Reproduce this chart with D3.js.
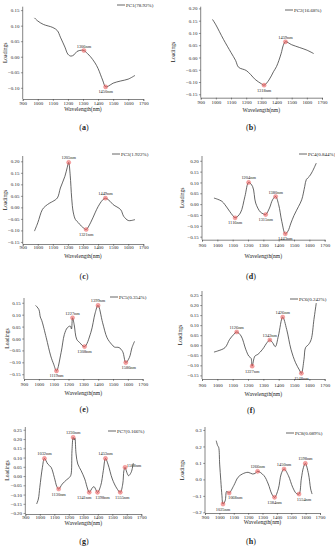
<!DOCTYPE html>
<html>
<head>
<meta charset="utf-8">
<script src="https://cdn.jsdelivr.net/npm/d3@7"></script>
<style>
  body { margin: 0; background: #fff; }
  svg text { font-family: "Liberation Serif", "DejaVu Serif", serif; fill: #222; }
</style>
</head>
<body>
<svg id="chart" width="335" height="550"></svg>
<script>
// wavelength axis
var xTicks = [900, 1000, 1100, 1200, 1300, 1400, 1500, 1600, 1700];

// legend names
var pcNames = ['PC1(78.92%)', 'PC2(16.68%)', 'PC3(1.922%)', 'PC4(0.844%)',
               'PC5(0.354%)', 'PC6(0.242%)', 'PC7(0.166%)', 'PC8(0.089%)'];
var captions = ['a', 'b', 'c', 'd', 'e', 'f', 'g', 'h'];

// y tick labels per panel
var yTicksA = [-0.10, -0.05, 0.00, 0.05, 0.10, 0.15];
var yTicksB = [-0.15, -0.10, -0.05, 0.00, 0.05, 0.10, 0.15, 0.20];
var yTicksE = [-0.15, -0.10, -0.05, 0.00, 0.05, 0.10, 0.15];
var yTicksF = [-0.15, -0.10, -0.05, 0.00, 0.05, 0.10, 0.15, 0.20, 0.25];
var yTicksG = [-0.20, -0.15, -0.10, -0.05, 0.00, 0.05, 0.10, 0.15, 0.20, 0.25];
var yTicksH = [-0.2, -0.1, 0.0, 0.1, 0.2, 0.3];

// loadings [wavelength, value]
var pc1 = [[978,0.125],[1000,0.115],[1037,0.104],[1100,0.094],[1130,0.084],[1150,0.063],[1180,0.031],[1200,0.008],[1220,0.002],[1240,0.006],[1260,0.017],[1290,0.021],[1306,0.020],[1330,0.010],[1350,0.0],[1380,-0.020],[1400,-0.038],[1430,-0.075],[1450,-0.097],[1470,-0.094],[1500,-0.085],[1550,-0.078],[1600,-0.072],[1645,-0.060]];
var pc2 = [[978,0.155],[1000,0.133],[1050,0.074],[1100,0.020],[1130,-0.012],[1150,-0.040],[1200,-0.053],[1230,-0.070],[1260,-0.090],[1300,-0.107],[1318,-0.113],[1350,-0.092],[1380,-0.058],[1400,-0.037],[1430,0.015],[1445,0.050],[1459,0.064],[1500,0.052],[1550,0.041],[1600,0.030],[1645,0.016]];
var pc3 = [[978,-0.103],[1000,-0.067],[1030,-0.010],[1050,0.005],[1080,0.019],[1100,0.026],[1130,0.041],[1150,0.084],[1180,0.135],[1195,0.172],[1205,0.195],[1215,0.140],[1225,0.040],[1235,-0.020],[1250,-0.053],[1270,-0.067],[1290,-0.082],[1305,-0.090],[1321,-0.096],[1350,-0.067],[1380,-0.024],[1400,0.003],[1430,0.032],[1449,0.040],[1480,0.026],[1500,0.012],[1550,-0.010],[1570,-0.039],[1600,-0.057],[1620,-0.057],[1645,-0.053]];
var pc4 = [[978,0.028],[1000,0.023],[1030,0.013],[1050,-0.003],[1080,-0.033],[1100,-0.052],[1116,-0.063],[1150,-0.041],[1180,0.036],[1204,0.100],[1230,0.081],[1250,0.005],[1280,-0.036],[1300,-0.045],[1315,-0.048],[1340,-0.018],[1360,0.020],[1380,0.035],[1400,-0.003],[1420,-0.079],[1443,-0.137],[1460,-0.125],[1480,-0.087],[1500,-0.052],[1530,-0.010],[1550,0.020],[1570,0.082],[1580,0.113],[1600,0.128],[1620,0.151],[1645,0.189]];
var pc5 = [[978,0.139],[1000,0.122],[1010,0.090],[1020,0.075],[1050,0.003],[1080,-0.073],[1100,-0.108],[1119,-0.136],[1150,-0.059],[1172,0.017],[1192,0.045],[1212,0.052],[1220,0.040],[1227,0.087],[1238,0.059],[1255,-0.003],[1275,-0.017],[1308,-0.034],[1350,0.024],[1380,0.108],[1399,0.139],[1430,0.066],[1460,0.003],[1490,-0.024],[1510,-0.036],[1540,-0.038],[1565,-0.055],[1586,-0.101],[1610,-0.080],[1628,-0.038],[1645,-0.012]];
var pc6 = [[978,-0.034],[1000,-0.029],[1050,-0.012],[1080,0.029],[1105,0.052],[1126,0.066],[1155,0.046],[1185,-0.020],[1205,-0.054],[1220,-0.065],[1227,-0.104],[1245,-0.054],[1265,-0.045],[1295,-0.020],[1325,0.014],[1342,0.026],[1360,0.013],[1378,-0.007],[1398,0.046],[1426,0.140],[1452,0.079],[1480,-0.020],[1510,-0.087],[1535,-0.123],[1548,-0.140],[1565,-0.070],[1575,-0.012],[1595,0.004],[1612,0.029],[1630,0.129],[1645,0.210]];
var pc7 = [[978,-0.151],[990,-0.124],[1000,-0.061],[1018,0.047],[1032,0.095],[1055,0.065],[1078,0.047],[1100,-0.007],[1118,-0.058],[1130,-0.070],[1155,-0.043],[1185,-0.020],[1205,-0.007],[1215,0.007],[1222,0.137],[1230,0.209],[1237,0.195],[1242,0.205],[1250,0.120],[1262,0.065],[1285,0.029],[1310,-0.016],[1330,-0.070],[1341,-0.088],[1365,-0.061],[1375,-0.058],[1398,-0.088],[1420,-0.052],[1438,0.029],[1453,0.095],[1470,0.065],[1500,-0.016],[1530,-0.065],[1555,-0.088],[1572,-0.043],[1580,0.029],[1588,0.047],[1600,0.020],[1612,0.002],[1630,0.020],[1645,0.070]];
var pc8 = [[978,0.235],[988,0.205],[995,0.195],[1002,0.093],[1010,-0.008],[1018,-0.099],[1025,-0.150],[1040,-0.130],[1050,-0.073],[1058,-0.077],[1068,-0.083],[1100,-0.038],[1130,0.013],[1160,0.033],[1200,0.043],[1230,0.033],[1250,0.037],[1266,0.049],[1310,0.023],[1340,-0.028],[1365,-0.089],[1384,-0.109],[1410,-0.058],[1430,0.033],[1450,0.063],[1480,0.023],[1510,-0.048],[1535,-0.085],[1554,-0.089],[1570,0.003],[1585,0.073],[1598,0.097],[1620,0.033],[1635,-0.058],[1645,-0.089]];

// marked peaks [wavelength, value, kind]
var pc1Peaks = [[1306,0.020,'max'],[1450,-0.097,'min']];
var pc2Peaks = [[1318,-0.113,'min'],[1459,0.064,'max']];
var pc3Peaks = [[1205,0.195,'max'],[1321,-0.096,'min'],[1449,0.040,'max']];
var pc4Peaks = [[1116,-0.063,'min'],[1204,0.100,'max'],[1315,-0.048,'min'],[1380,0.035,'max'],[1443,-0.137,'min']];
var pc5Peaks = [[1119,-0.136,'min'],[1227,0.087,'max'],[1308,-0.034,'min'],[1399,0.139,'max'],[1586,-0.101,'min']];
var pc6Peaks = [[1126,0.066,'max'],[1227,-0.104,'min'],[1342,0.026,'max'],[1426,0.140,'max'],[1548,-0.140,'min']];
var pc7Peaks = [[1032,0.095,'max'],[1130,-0.070,'min'],[1230,0.209,'max'],[1341,-0.088,'min'],[1398,-0.088,'min'],[1453,0.095,'max'],[1555,-0.088,'min'],[1588,0.047,'max']];
var pc8Peaks = [[1025,-0.150,'min'],[1068,-0.083,'min'],[1266,0.049,'max'],[1384,-0.109,'min'],[1450,0.063,'max'],[1554,-0.089,'min'],[1598,0.097,'max']];

var series = [pc1, pc2, pc3, pc4, pc5, pc6, pc7, pc8];
var peaks = [pc1Peaks, pc2Peaks, pc3Peaks, pc4Peaks, pc5Peaks, pc6Peaks, pc7Peaks, pc8Peaks];
var yTicks = [yTicksA, yTicksB, yTicksB, yTicksB, yTicksE, yTicksF, yTicksG, yTicksH];

var layout = [
  {x0: 22.7, x1: 143.3, top: 6.7, bot: 99,   yMin: -0.136, yMax: 0.161, tickY: 102.7, titleY: 109, capX: 84,  capY: 127, lx: 117, ly: 5,   labX: 5},
  {x0: 200.7, x1: 322,  top: 6.7, bot: 97.7, yMin: -0.164, yMax: 0.207, tickY: 101.7, titleY: 110, capX: 251, capY: 127, lx: 285, ly: 10,  labX: 173},
  {x0: 22.7, x1: 143.3, top: 156, bot: 244,  yMin: -0.159, yMax: 0.223, tickY: 247.5, titleY: 256, capX: 84,  capY: 276, lx: 112, ly: 154, labX: 5},
  {x0: 202,  x1: 324.7, top: 156, bot: 239.7, yMin: -0.164, yMax: 0.222, tickY: 245.5, titleY: 256, capX: 251, capY: 276, lx: 299, ly: 154, labX: 182},
  {x0: 24,   x1: 142.7, top: 298, bot: 379,  yMin: -0.170, yMax: 0.170, tickY: 384, titleY: 393, capX: 84,  capY: 409, lx: 110, ly: 297, labX: 7},
  {x0: 202,  x1: 324.7, top: 291, bot: 379,  yMin: -0.168, yMax: 0.270, tickY: 385, titleY: 394, capX: 251, capY: 410, lx: 290, ly: 299, labX: 180},
  {x0: 25.3, x1: 141.3, top: 427, bot: 514,  yMin: -0.205, yMax: 0.265, tickY: 517.5, titleY: 523, capX: 84, capY: 541, lx: 108, ly: 431, labX: 7},
  {x0: 205,  x1: 320,  top: 427, bot: 513,  yMin: -0.204, yMax: 0.318, tickY: 517.5, titleY: 522, capX: 251, capY: 541, lx: 286, ly: 433, labX: 182}
];

// small nudges for crowded peak labels [dx, dy]
var labelNudge = {
  '6-1341': [-5, 0], '6-1398': [5, 0], '6-1588': [9, 3], '6-1555': [2, 0],
  '7-1068': [6, -1], '7-1554': [5, 0], '4-1586': [3, 0]
};

var svg = d3.select('#chart');

series.forEach(function(data, i) {
  var L = layout[i];
  var x = d3.scaleLinear().domain([900, 1700]).range([L.x0, L.x1]);
  var y = d3.scaleLinear().domain([L.yMin, L.yMax]).range([L.bot, L.top]);
  var g = svg.append('g');
  var fmt = i === 7 ? d3.format('.1f') : d3.format('.2f');

  // y axis
  var ya = g.append('g').attr('transform', 'translate(' + L.x0 + ',0)')
    .call(d3.axisLeft(y).tickValues(yTicks[i]).tickSize(1.8).tickPadding(1.5).tickFormat(fmt));
  ya.select('.domain').attr('d', 'M0,' + L.top + 'V' + L.bot);
  // x axis
  var xa = g.append('g').attr('transform', 'translate(0,' + L.bot + ')')
    .call(d3.axisBottom(x).tickValues(xTicks).tickSize(1.8).tickFormat(d3.format('d')));
  xa.selectAll('.tick text').attr('y', 0).attr('dy', null)
    .attr('transform', 'translate(0,' + (L.tickY - L.bot + 1.9) + ')');

  g.selectAll('.domain').attr('stroke', '#333').attr('stroke-width', 0.6);
  g.selectAll('.tick line').attr('stroke', '#333').attr('stroke-width', 0.5);
  g.selectAll('.tick text').attr('font-size', 4.9).attr('fill', '#222')
    .attr('font-family', '"Liberation Serif", serif');

  // axis titles
  g.append('text')
    .attr('x', (L.x0 + L.x1) / 2).attr('y', L.titleY + 2)
    .attr('text-anchor', 'middle').attr('font-size', 5.6)
    .text('Wavelength(nm)');
  g.append('text')
    .attr('transform', 'translate(' + (L.labX + 1.9) + ',' + ((L.top + L.bot) / 2) + ') rotate(-90)')
    .attr('text-anchor', 'middle').attr('font-size', 5.5)
    .text('Loadings');

  // loading curve
  var line = d3.line()
    .x(function(d) { return x(d[0]); })
    .y(function(d) { return y(d[1]); })
    .curve(d3.curveCatmullRom.alpha(0.5));
  g.append('path').datum(data)
    .attr('d', line).attr('fill', 'none')
    .attr('stroke', '#333').attr('stroke-width', 0.75);

  // peak markers
  g.selectAll('circle.pk').data(peaks[i]).enter().append('circle')
    .attr('class', 'pk')
    .attr('cx', function(d) { return x(d[0]); })
    .attr('cy', function(d) { return y(d[1]); })
    .attr('r', 2.1)
    .attr('fill', 'rgba(240,90,90,0.55)')
    .attr('stroke', 'rgba(225,60,60,0.8)').attr('stroke-width', 0.3);

  g.selectAll('text.pk').data(peaks[i]).enter().append('text')
    .attr('class', 'pk')
    .attr('x', function(d) {
      var n = labelNudge[i + '-' + d[0]];
      return x(d[0]) + (n ? n[0] : 0);
    })
    .attr('y', function(d) {
      var n = labelNudge[i + '-' + d[0]];
      return y(d[1]) + (d[2] === 'max' ? -3 : 6.5) + (n ? n[1] : 0);
    })
    .attr('text-anchor', 'middle').attr('font-size', 4.4)
    .text(function(d) { return d[0] + 'nm'; });

  // legend
  g.append('line')
    .attr('x1', L.lx).attr('x2', L.lx + 8)
    .attr('y1', L.ly).attr('y2', L.ly)
    .attr('stroke', '#333').attr('stroke-width', 0.75);
  g.append('text')
    .attr('x', L.lx + 9).attr('y', L.ly + 1.7)
    .attr('font-size', 5)
    .text(pcNames[i]);

  // panel caption
  var cap = g.append('text')
    .attr('x', L.capX).attr('y', L.capY + 3)
    .attr('text-anchor', 'middle').attr('font-size', 8);
  cap.append('tspan').text('(');
  cap.append('tspan').attr('font-weight', 'bold').text(captions[i]);
  cap.append('tspan').text(')');
});
</script>
</body>
</html>
